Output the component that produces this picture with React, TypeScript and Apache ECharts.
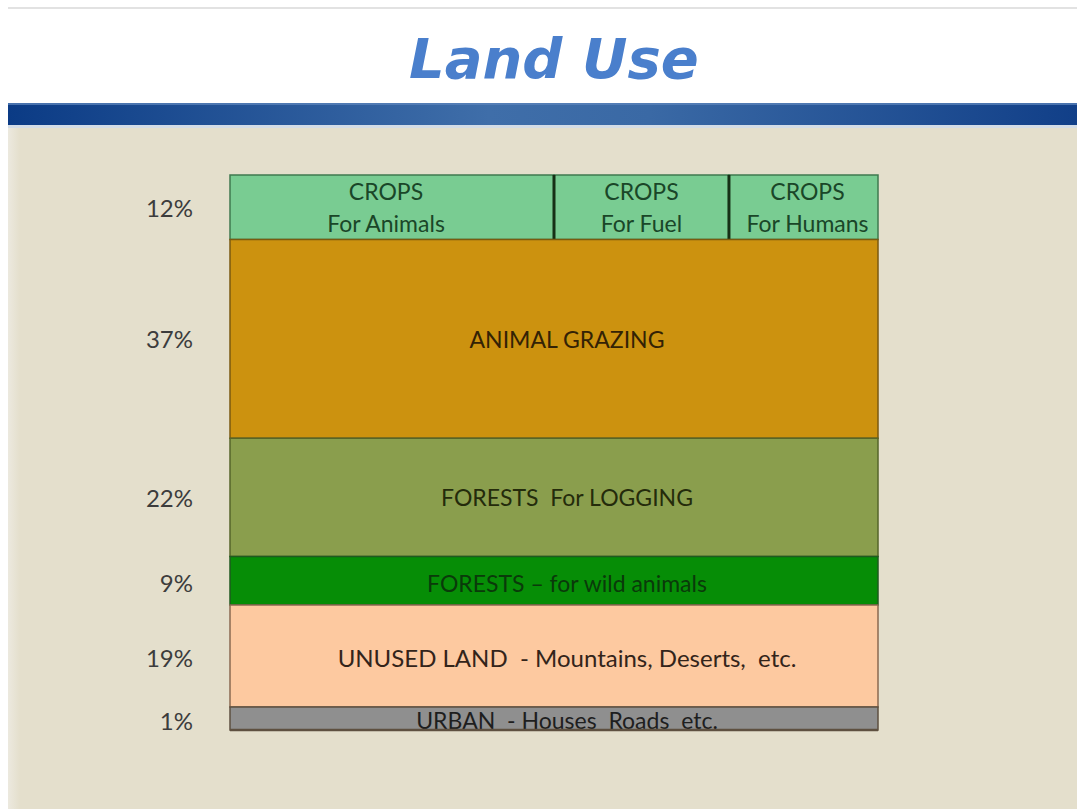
import React, { useEffect, useRef } from "react";
import * as echarts from "echarts";

// ---- data ----
const rowLabels = [
  "CROPS",
  "ANIMAL GRAZING",
  "FORESTS  For LOGGING",
  "FORESTS \u2013 for wild animals",
  "UNUSED LAND  - Mountains, Deserts,  etc.",
  "URBAN  - Houses  Roads  etc.",
];
const rowShares = [12, 37, 22, 9, 19, 1];
const shareLabels = ["12%", "37%", "22%", "9%", "19%", "1%"];
const cropLabels = ["CROPS\nFor Animals", "CROPS\nFor Fuel", "CROPS\nFor Humans"];
const cropSplit = [50, 27, 23]; // share of the crops row width

// ---- styles ----
const rowColors = ["#79cc92", "#cc920f", "#8a9e4d", "#068d06", "#fdc9a0", "#8f8f8f"];
const rowText = ["#1a4628", "#332205", "#242b0b", "#0a3a0a", "#33241a", "#1e1e1e"];
const rowStroke = ["#3f7a4f", "#7a5a10", "#56662a", "#1f5a1f", "#8a6a50", "#5e5040"];
const FONT = "Lato, 'Open Sans', sans-serif";

// cells: [x0, x1, y0, y1, row, part]
const mainRows = rowShares.length - 1; // last row is drawn in its own inset scale
const mainCells: number[][] = [];
let acc = 0;
for (let r = 0; r < mainRows; r++) {
  const y0 = acc;
  const y1 = acc + rowShares[r];
  if (r === 0) {
    let xa = 0;
    cropSplit.forEach((s, p) => {
      mainCells.push([xa, xa + s, y0, y1, r, p]);
      xa += s;
    });
  } else {
    mainCells.push([0, 100, y0, y1, r, -1]);
  }
  acc = y1;
}
const mainTotal = acc;
const urbanIdx = rowShares.length - 1;
const urbanCells = [[0, 100, 0, rowShares[urbanIdx], urbanIdx, -1]];

function renderCell(params: any, api: any) {
  const x0 = api.value(0);
  const x1 = api.value(1);
  const y0 = api.value(2);
  const y1 = api.value(3);
  const row = api.value(4);
  const part = api.value(5);
  const a = api.coord([x0, y0]);
  const b = api.coord([x1, y1]);
  const left = a[0];
  const top = a[1];
  const w = b[0] - a[0];
  const h = b[1] - a[1];
  const label = part >= 0 ? cropLabels[part] : rowLabels[row];
  const dy = row === urbanIdx ? 1.5 : row === 3 ? 2 : row === 4 ? 2 : 0;
  const dx = part >= 0 ? (part === 0 ? -6 : part === 2 ? 4 : 0) : 13;
  const children: any[] = [
    {
      type: "rect",
      shape: { x: left, y: top, width: w, height: h },
      style: { fill: rowColors[row], stroke: rowStroke[row], lineWidth: 1.5 },
    },
    {
      type: "text",
      x: left + w / 2 + dx,
      y: top + h / 2 + dy,
      style: {
        text: label,
        fill: rowText[row],
        font: `${part >= 0 ? 23 : row === 4 ? 24 : 23}px ${FONT}`,
        align: "center",
        verticalAlign: "middle",
        lineHeight: 32,
      },
    },
  ];
  if (part > 0) {
    children.push({
      type: "line",
      shape: { x1: left, y1: top, x2: left, y2: top + h },
      style: { stroke: "#163016", lineWidth: 3 },
    });
  }
  if (part <= 0) {
    children.push({
      type: "text",
      x: left - 37,
      y: top + h / 2 + dy,
      style: {
        text: shareLabels[row],
        fill: "#3c3c3c",
        font: `24px ${FONT}`,
        align: "right",
        verticalAlign: "middle",
      },
    });
  }
  if (row === urbanIdx) {
    children.push({
      type: "line",
      shape: { x1: left, y1: top + h, x2: left + w, y2: top + h },
      style: { stroke: "#5e5040", lineWidth: 2.5 },
    });
  }
  return { type: "group", children };
}

export default function App() {
  const ref = useRef<HTMLDivElement>(null);
  useEffect(() => {
    if (!ref.current) return;
    const chart = echarts.init(ref.current, undefined, { renderer: "svg" });
    const gridLeft = 230;
    const gridWidth = 648;
    chart.setOption({
      animation: false,
      title: {
        text: "Land Use",
        left: 404,
        top: 25,
        textStyle: {
          fontFamily: "'DejaVu Sans', sans-serif",
          fontStyle: "italic",
          fontWeight: "bold",
          fontSize: 56,
          color: "#4a7fcc",
        },
      },
      graphic: [
        { type: "line", z: -10, shape: { x1: 8, y1: 8, x2: 1077, y2: 8 }, style: { stroke: "#e2e2e2", lineWidth: 2 } },
        {
          type: "rect",
          z: -10,
          shape: { x: 8, y: 125, width: 1069, height: 684 },
          style: { fill: "#e4dfcc" },
        },
        {
          type: "rect",
          z: -9,
          shape: { x: 8, y: 125, width: 12, height: 684 },
          style: {
            fill: new echarts.graphic.LinearGradient(0, 0, 1, 0, [
              { offset: 0, color: "#ece9df" },
              { offset: 1, color: "#e4dfcc" },
            ]),
          },
        },
        {
          type: "rect",
          z: -8,
          shape: { x: 8, y: 103, width: 1069, height: 22 },
          style: {
            fill: new echarts.graphic.LinearGradient(0, 0, 1, 0, [
              { offset: 0, color: "#0b3b85" },
              { offset: 0.45, color: "#3f6ea9" },
              { offset: 0.6, color: "#3a69a5" },
              { offset: 1, color: "#113f88" },
            ]),
          },
        },
        { type: "line", z: -7, shape: { x1: 8, y1: 104, x2: 1077, y2: 104 }, style: { stroke: "#5d85bb", lineWidth: 1.5 } },
        { type: "rect", z: -7, shape: { x: 8, y: 125, width: 1069, height: 3 }, style: { fill: "#d3dce6" } },
      ],
      grid: [
        { left: gridLeft, width: gridWidth, top: 175, height: 532 },
        { left: gridLeft, width: gridWidth, top: 707, height: 23 },
      ],
      xAxis: [
        { type: "value", gridIndex: 0, min: 0, max: 100, show: false },
        { type: "value", gridIndex: 1, min: 0, max: 100, show: false },
      ],
      yAxis: [
        { type: "value", gridIndex: 0, min: 0, max: mainTotal, inverse: true, show: false },
        { type: "value", gridIndex: 1, min: 0, max: rowShares[urbanIdx], inverse: true, show: false },
      ],
      series: [
        {
          type: "custom",
          xAxisIndex: 0,
          yAxisIndex: 0,
          renderItem: renderCell,
          data: mainCells,
          silent: true,
        },
        {
          type: "custom",
          xAxisIndex: 1,
          yAxisIndex: 1,
          renderItem: renderCell,
          data: urbanCells,
          silent: true,
        },
      ],
    });
    return () => chart.dispose();
  }, []);
  return (
    <div
      ref={ref}
      style={{ position: "absolute", left: 0, top: 0, width: 1077, height: 809 }}
    />
  );
}
